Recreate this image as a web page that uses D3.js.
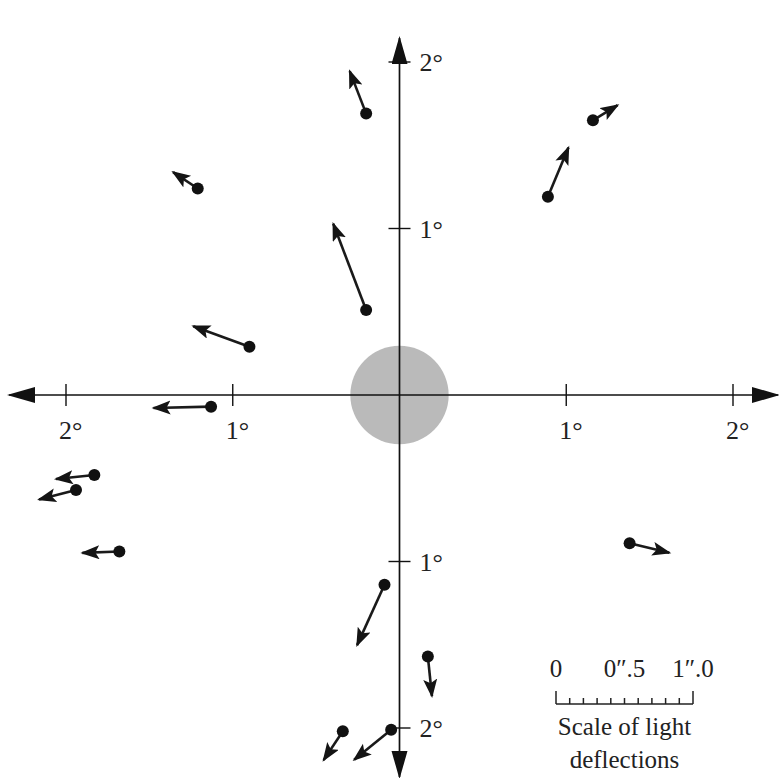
<!DOCTYPE html>
<html>
<head>
<meta charset="utf-8">
<script src="https://cdn.jsdelivr.net/npm/d3@7"></script>
<style>
  body { margin: 0; background: #fff; }
</style>
</head>
<body>
<div id="chart"></div>
<script>
// star positions relative to the sun centre (degrees)
const starX = [-0.20, -1.21, -0.20, -0.90, 0.89, 1.16, -0.09, 0.17, -0.34, -0.05, -1.83, -1.94, -1.68, -1.13, 1.38];
const starY = [1.69, 1.24, 0.51, 0.29, 1.19, 1.65, -1.14, -1.57, -2.02, -2.01, -0.48, -0.57, -0.94, -0.07, -0.89];
// measured light deflections (arcseconds)
const deflX = [-0.12, -0.18, -0.24, -0.41, 0.15, 0.18, -0.20, 0.03, -0.14, -0.27, -0.28, -0.27, -0.27, -0.42, 0.29];
const deflY = [0.31, 0.12, 0.63, 0.15, 0.36, 0.11, -0.44, -0.29, -0.21, -0.22, -0.03, -0.07, -0.01, -0.01, -0.07];

const axisTicks = [-2, -1, 1, 2];
const sunRadius = 0.295; // degrees
const scaleTicks = d3.range(0, 1.0001, 0.1);
const scaleLabels = [[0, '0'], [0.5, '0\u2033.5'], [1, '1\u2033.0']];

const width = 779;
const height = 778;
const serif = '"Liberation Serif", "Times New Roman", Times, "DejaVu Serif", serif';

const x = d3.scaleLinear().domain([-2, 2]).range([66, 733]);
const y = d3.scaleLinear().domain([-2, 2]).range([728, 62]);
// deflection scale: arcsec -> px, shared with the scale bar
const bar = d3.scaleLinear().domain([0, 1]).range([556, 693]);
const pxPerArcsec = bar(1) - bar(0);

const svg = d3.select('#chart')
  .append('svg')
  .attr('width', width)
  .attr('height', height)
  .attr('font-family', serif);

const defs = svg.append('defs');
defs.append('marker')
  .attr('id', 'head')
  .attr('markerUnits', 'userSpaceOnUse')
  .attr('viewBox', '0 0 20 16')
  .attr('markerWidth', 20)
  .attr('markerHeight', 16)
  .attr('refX', 17)
  .attr('refY', 7)
  .attr('orient', 'auto')
  .append('path')
  .attr('d', 'M0,0 L19,7 L0,14 L4,7 Z')
  .style('fill', '#141414');
defs.append('marker')
  .attr('id', 'axhead')
  .attr('markerUnits', 'userSpaceOnUse')
  .attr('viewBox', '0 0 30 18')
  .attr('markerWidth', 30)
  .attr('markerHeight', 18)
  .attr('refX', 26)
  .attr('refY', 8)
  .attr('orient', 'auto')
  .append('path')
  .attr('d', 'M0,0 L28,8 L0,16 Z')
  .style('fill', '#111');

// sun
svg.append('circle')
  .attr('cx', x(0))
  .attr('cy', y(0))
  .attr('r', x(sunRadius) - x(0))
  .style('fill', '#bababa');

// axes with arrowheads at both ends
const cx = x(0), cy = y(0);
svg.append('line')
  .attr('x1', cx).attr('y1', cy).attr('x2', 778).attr('y2', cy)
  .attr('marker-end', 'url(#axhead)');
svg.append('line')
  .attr('x1', cx).attr('y1', cy).attr('x2', 9).attr('y2', cy)
  .attr('marker-end', 'url(#axhead)');
svg.append('line')
  .attr('x1', cx).attr('y1', cy).attr('x2', cx).attr('y2', 38)
  .attr('marker-end', 'url(#axhead)');
svg.append('line')
  .attr('x1', cx).attr('y1', cy).attr('x2', cx).attr('y2', 777)
  .attr('marker-end', 'url(#axhead)');
svg.selectAll('line').style('stroke', '#111').style('stroke-width', 1.7);

// ticks and labels on the horizontal axis
svg.selectAll('.xtick')
  .data(axisTicks)
  .enter()
  .append('line')
  .attr('class', 'xtick')
  .attr('x1', (d) => x(d)).attr('x2', (d) => x(d))
  .attr('y1', cy - 11).attr('y2', cy + 11)
  .style('stroke', '#111')
  .style('stroke-width', 1.4);
svg.selectAll('.xlab')
  .data(axisTicks)
  .enter()
  .append('text')
  .attr('class', 'xlab')
  .attr('x', (d) => x(d) - 7)
  .attr('y', cy + 44)
  .text((d) => Math.abs(d) + '\u00b0')
  .style('font-family', serif)
  .style('font-size', '26px')
  .style('fill', '#222');

// ticks and labels on the vertical axis
svg.selectAll('.ytick')
  .data(axisTicks)
  .enter()
  .append('line')
  .attr('class', 'ytick')
  .attr('x1', cx - 11).attr('x2', cx + 11)
  .attr('y1', (d) => y(d)).attr('y2', (d) => y(d))
  .style('stroke', '#111')
  .style('stroke-width', 1.4);
svg.selectAll('.ylab')
  .data(axisTicks)
  .enter()
  .append('text')
  .attr('class', 'ylab')
  .attr('x', cx + 20)
  .attr('y', (d) => y(d) + 9)
  .text((d) => Math.abs(d) + '\u00b0')
  .style('font-family', serif)
  .style('font-size', '26px')
  .style('fill', '#222');

// stars with deflection arrows
const stars = starX.map((sx, i) => ({ sx, sy: starY[i], dx: deflX[i], dy: deflY[i] }));
const g = svg.selectAll('.star')
  .data(stars)
  .enter()
  .append('g')
  .attr('class', 'star');
g.append('line')
  .attr('x1', (d) => x(d.sx))
  .attr('y1', (d) => y(d.sy))
  .attr('x2', (d) => x(d.sx) + d.dx * pxPerArcsec)
  .attr('y2', (d) => y(d.sy) - d.dy * pxPerArcsec)
  .attr('marker-end', 'url(#head)')
  .style('stroke', '#1a1a1a')
  .style('stroke-width', 2.6);
g.append('circle')
  .attr('cx', (d) => x(d.sx))
  .attr('cy', (d) => y(d.sy))
  .attr('r', 6)
  .style('fill', '#111');

// scale of light deflections
const sb = svg.append('g').attr('class', 'scalebar');
const barY = 704;
sb.append('line')
  .attr('x1', bar(0)).attr('x2', bar(1))
  .attr('y1', barY).attr('y2', barY);
sb.selectAll('.st')
  .data(scaleTicks)
  .enter()
  .append('line')
  .attr('class', 'st')
  .attr('x1', (d) => bar(d)).attr('x2', (d) => bar(d))
  .attr('y1', barY)
  .attr('y2', (d, i) => (i === 0 || i === scaleTicks.length - 1) ? barY - 13 : barY - 6);
sb.selectAll('line').style('stroke', '#222').style('stroke-width', 1.5);
sb.selectAll('.sl')
  .data(scaleLabels)
  .enter()
  .append('text')
  .attr('x', (d) => bar(d[0]))
  .attr('y', 677)
  .attr('text-anchor', 'middle')
  .text((d) => d[1])
  .style('font-family', serif)
  .style('font-size', '25px')
  .style('fill', '#222');
sb.append('text')
  .attr('x', bar(0.5))
  .attr('y', 735)
  .attr('text-anchor', 'middle')
  .text('Scale of light')
  .style('font-family', serif)
  .style('font-size', '25px')
  .style('fill', '#222');
sb.append('text')
  .attr('x', bar(0.5))
  .attr('y', 768)
  .attr('text-anchor', 'middle')
  .text('deflections')
  .style('font-family', serif)
  .style('font-size', '25px')
  .style('fill', '#222');
</script>
</body>
</html>
